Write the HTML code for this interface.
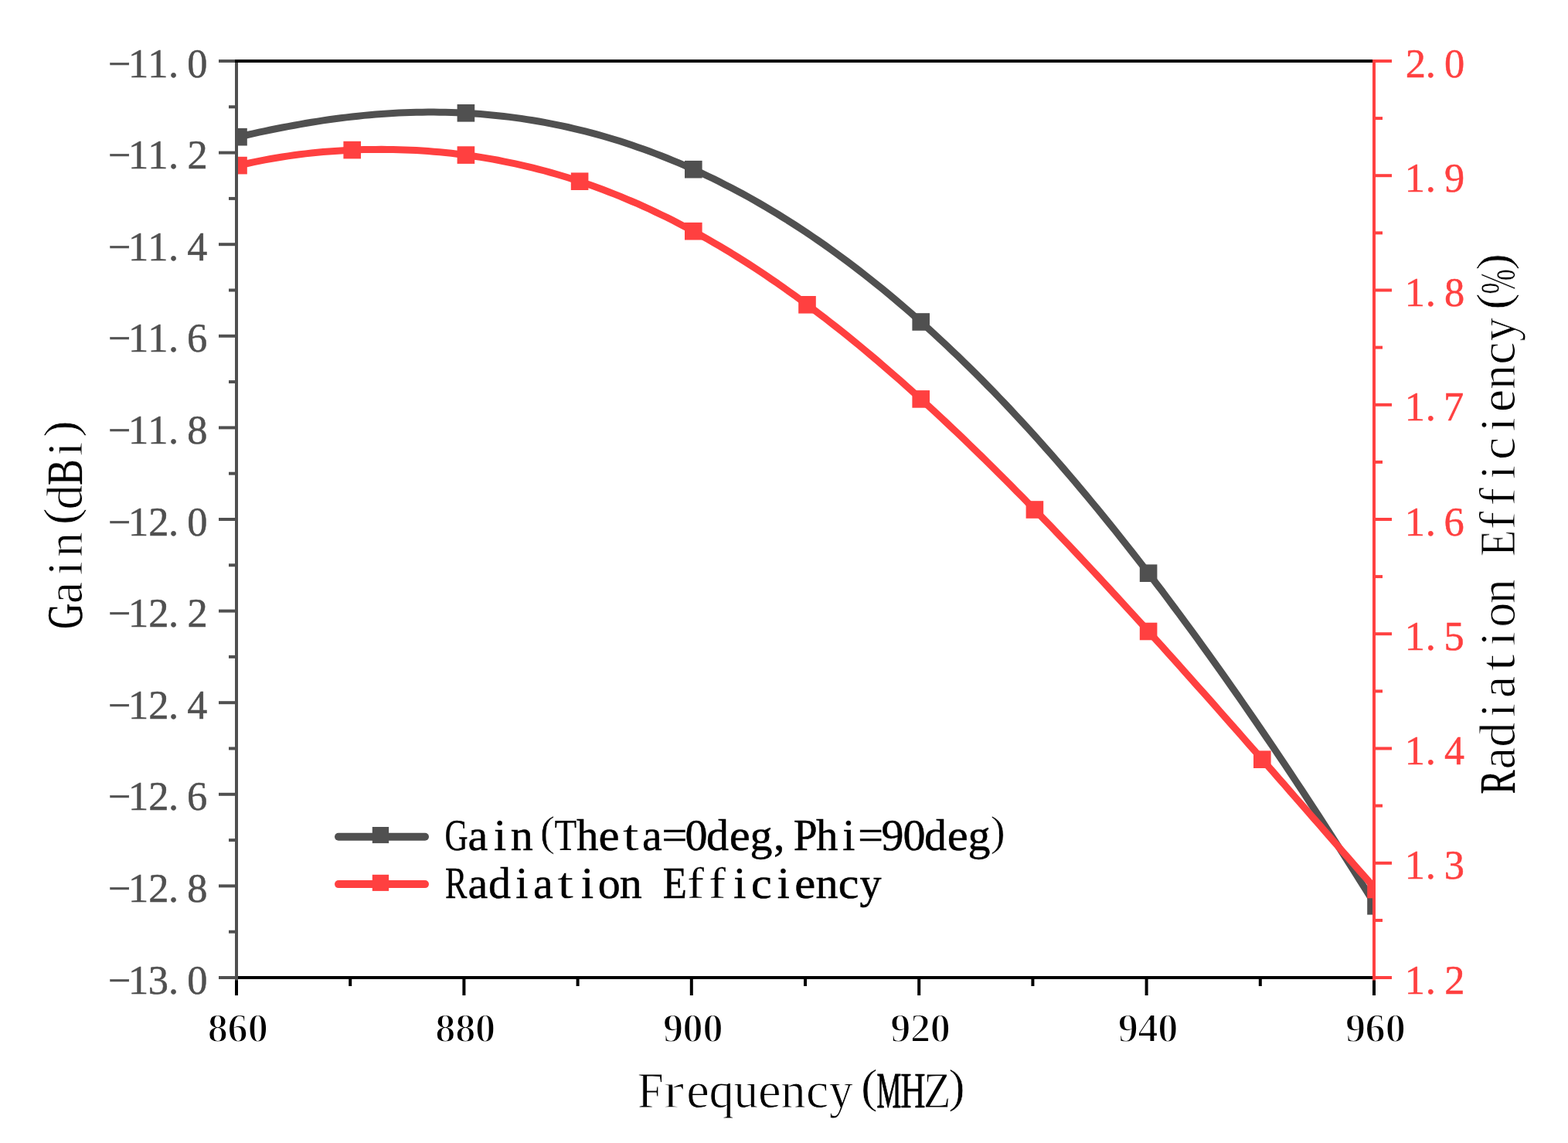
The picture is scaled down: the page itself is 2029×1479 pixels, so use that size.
<!DOCTYPE html><html><head><meta charset="utf-8"><title>Gain and Radiation Efficiency</title><style>html,body{margin:0;padding:0;background:#fff;overflow:hidden}svg{display:block}text{font-variant-ligatures:none;font-kerning:none}</style></head><body><svg width="2029" height="1479" viewBox="0 0 2029 1479">
<rect width="2029" height="1479" fill="#fff"/>
<defs><clipPath id="pc"><rect x="308.0" y="81.0" width="1468.0" height="1182.0"/></clipPath></defs>
<g clip-path="url(#pc)">
<path d="M290.0,181.6 L297.5,179.8 L305.1,178.0 L312.6,176.3 L320.2,174.5 L327.7,172.9 L335.2,171.2 L342.8,169.6 L350.3,168.0 L357.8,166.5 L365.4,165.0 L372.9,163.6 L380.5,162.2 L388.0,160.8 L395.5,159.5 L403.1,158.3 L410.6,157.1 L418.1,155.9 L425.7,154.8 L433.2,153.8 L440.8,152.8 L448.3,151.9 L455.8,151.0 L463.4,150.2 L470.9,149.4 L478.4,148.7 L486.0,148.1 L493.5,147.5 L501.1,147.0 L508.6,146.5 L516.1,146.1 L523.7,145.8 L531.2,145.5 L538.7,145.3 L546.3,145.2 L553.8,145.1 L561.4,145.1 L568.9,145.2 L576.4,145.3 L584.0,145.5 L591.5,145.8 L599.0,146.1 L606.6,146.6 L614.1,147.0 L621.7,147.6 L629.2,148.2 L636.7,148.9 L644.3,149.7 L651.8,150.5 L659.3,151.4 L666.9,152.4 L674.4,153.4 L682.0,154.6 L689.5,155.8 L697.0,157.0 L704.6,158.4 L712.1,159.8 L719.6,161.3 L727.2,162.9 L734.7,164.5 L742.3,166.3 L749.8,168.1 L757.3,169.9 L764.9,171.9 L772.4,173.9 L779.9,176.0 L787.5,178.2 L795.0,180.5 L802.6,182.8 L810.1,185.3 L817.6,187.8 L825.2,190.4 L832.7,193.0 L840.3,195.8 L847.8,198.6 L855.3,201.5 L862.9,204.5 L870.4,207.6 L877.9,210.7 L885.5,213.9 L893.0,217.3 L900.6,220.7 L908.1,224.1 L915.6,227.7 L923.2,231.3 L930.7,235.1 L938.2,238.9 L945.8,242.8 L953.3,246.7 L960.9,250.8 L968.4,254.9 L975.9,259.2 L983.5,263.5 L991.0,267.9 L998.5,272.4 L1006.1,276.9 L1013.6,281.6 L1021.2,286.3 L1028.7,291.1 L1036.2,296.1 L1043.8,301.0 L1051.3,306.1 L1058.8,311.3 L1066.4,316.5 L1073.9,321.9 L1081.5,327.3 L1089.0,332.8 L1096.5,338.4 L1104.1,344.1 L1111.6,349.9 L1119.1,355.7 L1126.7,361.7 L1134.2,367.7 L1141.8,373.8 L1149.3,380.0 L1156.8,386.3 L1164.4,392.7 L1171.9,399.1 L1179.4,405.7 L1187.0,412.3 L1194.5,419.0 L1202.1,425.8 L1209.6,432.7 L1217.1,439.7 L1224.7,446.7 L1232.2,453.9 L1239.7,461.1 L1247.3,468.4 L1254.8,475.8 L1262.4,483.3 L1269.9,490.8 L1277.4,498.5 L1285.0,506.2 L1292.5,514.0 L1300.1,521.9 L1307.6,529.9 L1315.1,538.0 L1322.7,546.1 L1330.2,554.3 L1337.7,562.6 L1345.3,571.0 L1352.8,579.5 L1360.4,588.0 L1367.9,596.6 L1375.4,605.3 L1383.0,614.1 L1390.5,622.9 L1398.0,631.9 L1405.6,640.9 L1413.1,650.0 L1420.7,659.1 L1428.2,668.3 L1435.7,677.6 L1443.3,687.0 L1450.8,696.5 L1458.3,706.0 L1465.9,715.6 L1473.4,725.3 L1481.0,735.0 L1488.5,744.8 L1496.0,754.7 L1503.6,764.6 L1511.1,774.6 L1518.6,784.7 L1526.2,794.9 L1533.7,805.1 L1541.3,815.4 L1548.8,825.7 L1556.3,836.1 L1563.9,846.6 L1571.4,857.1 L1578.9,867.7 L1586.5,878.4 L1594.0,889.1 L1601.6,899.9 L1609.1,910.7 L1616.6,921.6 L1624.2,932.6 L1631.7,943.6 L1639.2,954.6 L1646.8,965.8 L1654.3,977.0 L1661.9,988.2 L1669.4,999.5 L1676.9,1010.9 L1684.5,1022.3 L1692.0,1033.7 L1699.5,1045.3 L1707.1,1056.8 L1714.6,1068.5 L1722.2,1080.1 L1729.7,1091.9 L1737.2,1103.7 L1744.8,1115.5 L1752.3,1127.4 L1759.8,1139.3 L1767.4,1151.3 L1774.9,1163.4 L1782.5,1175.5 L1790.0,1187.7" fill="none" stroke="#505050" stroke-width="9.0" stroke-linejoin="round"/>
<rect x="297.2" y="165.9" width="22.6" height="22.6" fill="#505050"/><rect x="591.6" y="135.0" width="22.6" height="22.6" fill="#505050"/><rect x="886.0" y="207.9" width="22.6" height="22.6" fill="#505050"/><rect x="1180.4" y="405.2" width="22.6" height="22.6" fill="#505050"/><rect x="1474.8" y="730.4" width="22.6" height="22.6" fill="#505050"/><rect x="1769.2" y="1161.0" width="22.6" height="22.6" fill="#505050"/>
<path d="M290.0,218.8 L297.5,216.8 L305.1,214.9 L312.6,213.1 L320.2,211.5 L327.7,209.8 L335.2,208.3 L342.8,206.9 L350.3,205.5 L357.8,204.2 L365.4,203.0 L372.9,201.9 L380.5,200.8 L388.0,199.8 L395.5,198.9 L403.1,198.1 L410.6,197.3 L418.1,196.6 L425.7,196.0 L433.2,195.4 L440.8,194.9 L448.3,194.5 L455.8,194.1 L463.4,193.8 L470.9,193.6 L478.4,193.5 L486.0,193.4 L493.5,193.3 L501.1,193.4 L508.6,193.5 L516.1,193.7 L523.7,193.9 L531.2,194.2 L538.7,194.6 L546.3,195.1 L553.8,195.6 L561.4,196.2 L568.9,196.8 L576.4,197.5 L584.0,198.3 L591.5,199.2 L599.0,200.1 L606.6,201.2 L614.1,202.2 L621.7,203.4 L629.2,204.6 L636.7,205.9 L644.3,207.3 L651.8,208.8 L659.3,210.3 L666.9,211.9 L674.4,213.6 L682.0,215.3 L689.5,217.2 L697.0,219.1 L704.6,221.0 L712.1,223.1 L719.6,225.3 L727.2,227.5 L734.7,229.8 L742.3,232.2 L749.8,234.6 L757.3,237.2 L764.9,239.8 L772.4,242.5 L779.9,245.3 L787.5,248.2 L795.0,251.1 L802.6,254.1 L810.1,257.3 L817.6,260.5 L825.2,263.7 L832.7,267.1 L840.3,270.5 L847.8,274.1 L855.3,277.7 L862.9,281.3 L870.4,285.1 L877.9,289.0 L885.5,292.9 L893.0,296.9 L900.6,301.0 L908.1,305.2 L915.6,309.4 L923.2,313.8 L930.7,318.2 L938.2,322.7 L945.8,327.2 L953.3,331.9 L960.9,336.6 L968.4,341.4 L975.9,346.3 L983.5,351.3 L991.0,356.3 L998.5,361.5 L1006.1,366.6 L1013.6,371.9 L1021.2,377.3 L1028.7,382.7 L1036.2,388.2 L1043.8,393.7 L1051.3,399.4 L1058.8,405.1 L1066.4,410.8 L1073.9,416.7 L1081.5,422.6 L1089.0,428.6 L1096.5,434.6 L1104.1,440.7 L1111.6,446.9 L1119.1,453.1 L1126.7,459.5 L1134.2,465.8 L1141.8,472.3 L1149.3,478.8 L1156.8,485.3 L1164.4,491.9 L1171.9,498.6 L1179.4,505.3 L1187.0,512.1 L1194.5,519.0 L1202.1,525.8 L1209.6,532.8 L1217.1,539.8 L1224.7,546.9 L1232.2,554.0 L1239.7,561.1 L1247.3,568.3 L1254.8,575.6 L1262.4,582.9 L1269.9,590.2 L1277.4,597.6 L1285.0,605.1 L1292.5,612.6 L1300.1,620.1 L1307.6,627.7 L1315.1,635.3 L1322.7,642.9 L1330.2,650.6 L1337.7,658.3 L1345.3,666.1 L1352.8,673.9 L1360.4,681.7 L1367.9,689.6 L1375.4,697.5 L1383.0,705.4 L1390.5,713.4 L1398.0,721.4 L1405.6,729.5 L1413.1,737.5 L1420.7,745.6 L1428.2,753.7 L1435.7,761.9 L1443.3,770.1 L1450.8,778.3 L1458.3,786.5 L1465.9,794.7 L1473.4,803.0 L1481.0,811.3 L1488.5,819.6 L1496.0,827.9 L1503.6,836.3 L1511.1,844.7 L1518.6,853.1 L1526.2,861.5 L1533.7,869.9 L1541.3,878.4 L1548.8,886.9 L1556.3,895.3 L1563.9,903.8 L1571.4,912.3 L1578.9,920.9 L1586.5,929.4 L1594.0,938.0 L1601.6,946.5 L1609.1,955.1 L1616.6,963.7 L1624.2,972.3 L1631.7,980.9 L1639.2,989.5 L1646.8,998.1 L1654.3,1006.7 L1661.9,1015.3 L1669.4,1024.0 L1676.9,1032.6 L1684.5,1041.2 L1692.0,1049.9 L1699.5,1058.5 L1707.1,1067.1 L1714.6,1075.8 L1722.2,1084.4 L1729.7,1093.0 L1737.2,1101.7 L1744.8,1110.3 L1752.3,1118.9 L1759.8,1127.5 L1767.4,1136.1 L1774.9,1144.6 L1782.5,1153.2 L1790.0,1161.8" fill="none" stroke="#ff4040" stroke-width="9.0" stroke-linejoin="round"/>
<rect x="297.2" y="202.8" width="22.6" height="22.6" fill="#ff4040"/><rect x="444.4" y="182.8" width="22.6" height="22.6" fill="#ff4040"/><rect x="591.6" y="189.3" width="22.6" height="22.6" fill="#ff4040"/><rect x="738.8" y="223.4" width="22.6" height="22.6" fill="#ff4040"/><rect x="886.0" y="287.9" width="22.6" height="22.6" fill="#ff4040"/><rect x="1033.2" y="383.0" width="22.6" height="22.6" fill="#ff4040"/><rect x="1180.4" y="505.1" width="22.6" height="22.6" fill="#ff4040"/><rect x="1327.6" y="648.2" width="22.6" height="22.6" fill="#ff4040"/><rect x="1474.8" y="805.7" width="22.6" height="22.6" fill="#ff4040"/><rect x="1622.0" y="971.4" width="22.6" height="22.6" fill="#ff4040"/><rect x="1769.2" y="1139.7" width="22.6" height="22.6" fill="#ff4040"/>
</g>
<g stroke="#000" stroke-width="4.0" fill="none">
<line x1="304.0" y1="1265.0" x2="1780.0" y2="1265.0"/>
<line x1="306.0" y1="1265.0" x2="306.0" y2="1288.0"/>
<line x1="453.2" y1="1265.0" x2="453.2" y2="1276.0"/>
<line x1="600.4" y1="1265.0" x2="600.4" y2="1288.0"/>
<line x1="747.6" y1="1265.0" x2="747.6" y2="1276.0"/>
<line x1="894.8" y1="1265.0" x2="894.8" y2="1288.0"/>
<line x1="1042.0" y1="1265.0" x2="1042.0" y2="1276.0"/>
<line x1="1189.2" y1="1265.0" x2="1189.2" y2="1288.0"/>
<line x1="1336.4" y1="1265.0" x2="1336.4" y2="1276.0"/>
<line x1="1483.6" y1="1265.0" x2="1483.6" y2="1288.0"/>
<line x1="1630.8" y1="1265.0" x2="1630.8" y2="1276.0"/>
<line x1="1778.0" y1="1265.0" x2="1778.0" y2="1288.0"/>
</g>
<g stroke="#505050" stroke-width="4.0" fill="none">
<line x1="306.0" y1="77.0" x2="306.0" y2="1268.6"/>
<line x1="283.0" y1="79.0" x2="306.0" y2="79.0"/>
<line x1="296.0" y1="138.3" x2="306.0" y2="138.3"/>
<line x1="283.0" y1="197.6" x2="306.0" y2="197.6"/>
<line x1="296.0" y1="256.9" x2="306.0" y2="256.9"/>
<line x1="283.0" y1="316.2" x2="306.0" y2="316.2"/>
<line x1="296.0" y1="375.5" x2="306.0" y2="375.5"/>
<line x1="283.0" y1="434.8" x2="306.0" y2="434.8"/>
<line x1="296.0" y1="494.1" x2="306.0" y2="494.1"/>
<line x1="283.0" y1="553.4" x2="306.0" y2="553.4"/>
<line x1="296.0" y1="612.7" x2="306.0" y2="612.7"/>
<line x1="283.0" y1="672.0" x2="306.0" y2="672.0"/>
<line x1="296.0" y1="731.3" x2="306.0" y2="731.3"/>
<line x1="283.0" y1="790.6" x2="306.0" y2="790.6"/>
<line x1="296.0" y1="849.9" x2="306.0" y2="849.9"/>
<line x1="283.0" y1="909.2" x2="306.0" y2="909.2"/>
<line x1="296.0" y1="968.5" x2="306.0" y2="968.5"/>
<line x1="283.0" y1="1027.8" x2="306.0" y2="1027.8"/>
<line x1="296.0" y1="1087.1" x2="306.0" y2="1087.1"/>
<line x1="283.0" y1="1146.4" x2="306.0" y2="1146.4"/>
<line x1="296.0" y1="1205.7" x2="306.0" y2="1205.7"/>
<line x1="283.0" y1="1265.0" x2="306.0" y2="1265.0"/>
</g>
<line x1="304.0" y1="79.0" x2="1778.0" y2="79.0" stroke="#000" stroke-width="4.0"/>
<g stroke="#ff4040" stroke-width="4.0" fill="none">
<line x1="1778.0" y1="77.0" x2="1778.0" y2="1268.6"/>
<line x1="1778.0" y1="79.0" x2="1801.0" y2="79.0"/>
<line x1="1778.0" y1="153.1" x2="1789.0" y2="153.1"/>
<line x1="1778.0" y1="227.2" x2="1801.0" y2="227.2"/>
<line x1="1778.0" y1="301.4" x2="1789.0" y2="301.4"/>
<line x1="1778.0" y1="375.5" x2="1801.0" y2="375.5"/>
<line x1="1778.0" y1="449.6" x2="1789.0" y2="449.6"/>
<line x1="1778.0" y1="523.8" x2="1801.0" y2="523.8"/>
<line x1="1778.0" y1="597.9" x2="1789.0" y2="597.9"/>
<line x1="1778.0" y1="672.0" x2="1801.0" y2="672.0"/>
<line x1="1778.0" y1="746.1" x2="1789.0" y2="746.1"/>
<line x1="1778.0" y1="820.2" x2="1801.0" y2="820.2"/>
<line x1="1778.0" y1="894.4" x2="1789.0" y2="894.4"/>
<line x1="1778.0" y1="968.5" x2="1801.0" y2="968.5"/>
<line x1="1778.0" y1="1042.6" x2="1789.0" y2="1042.6"/>
<line x1="1778.0" y1="1116.8" x2="1801.0" y2="1116.8"/>
<line x1="1778.0" y1="1190.9" x2="1789.0" y2="1190.9"/>
<line x1="1778.0" y1="1265.0" x2="1801.0" y2="1265.0"/>
</g>
<g font-family="Liberation Serif, serif" font-size="52.4" font-weight="normal" fill="#505050" stroke="#505050" stroke-width="0.5" ><text transform="translate(154.60,99.50) scale(0.992,1.000)" x="-14.80" y="0">−</text><text x="165.97" y="99.50">1</text><text x="191.17" y="99.50">1</text><text x="218.11" y="99.50">.</text><text x="242.30" y="99.50">0</text></g>
<g font-family="Liberation Serif, serif" font-size="52.4" font-weight="normal" fill="#505050" stroke="#505050" stroke-width="0.5" ><text transform="translate(154.60,218.10) scale(0.992,1.000)" x="-14.80" y="0">−</text><text x="165.97" y="218.10">1</text><text x="191.17" y="218.10">1</text><text x="218.11" y="218.10">.</text><text x="242.59" y="218.10">2</text></g>
<g font-family="Liberation Serif, serif" font-size="52.4" font-weight="normal" fill="#505050" stroke="#505050" stroke-width="0.5" ><text transform="translate(154.60,336.70) scale(0.992,1.000)" x="-14.80" y="0">−</text><text x="165.97" y="336.70">1</text><text x="191.17" y="336.70">1</text><text x="218.11" y="336.70">.</text><text transform="translate(255.40,336.70) scale(0.993,1.000)" x="-13.20" y="0">4</text></g>
<g font-family="Liberation Serif, serif" font-size="52.4" font-weight="normal" fill="#505050" stroke="#505050" stroke-width="0.5" ><text transform="translate(154.60,455.30) scale(0.992,1.000)" x="-14.80" y="0">−</text><text x="165.97" y="455.30">1</text><text x="191.17" y="455.30">1</text><text x="218.11" y="455.30">.</text><text x="241.95" y="455.30">6</text></g>
<g font-family="Liberation Serif, serif" font-size="52.4" font-weight="normal" fill="#505050" stroke="#505050" stroke-width="0.5" ><text transform="translate(154.60,573.90) scale(0.992,1.000)" x="-14.80" y="0">−</text><text x="165.97" y="573.90">1</text><text x="191.17" y="573.90">1</text><text x="218.11" y="573.90">.</text><text x="242.30" y="573.90">8</text></g>
<g font-family="Liberation Serif, serif" font-size="52.4" font-weight="normal" fill="#505050" stroke="#505050" stroke-width="0.5" ><text transform="translate(154.60,692.50) scale(0.992,1.000)" x="-14.80" y="0">−</text><text x="165.97" y="692.50">1</text><text x="192.19" y="692.50">2</text><text x="218.11" y="692.50">.</text><text x="242.30" y="692.50">0</text></g>
<g font-family="Liberation Serif, serif" font-size="52.4" font-weight="normal" fill="#505050" stroke="#505050" stroke-width="0.5" ><text transform="translate(154.60,811.10) scale(0.992,1.000)" x="-14.80" y="0">−</text><text x="165.97" y="811.10">1</text><text x="192.19" y="811.10">2</text><text x="218.11" y="811.10">.</text><text x="242.59" y="811.10">2</text></g>
<g font-family="Liberation Serif, serif" font-size="52.4" font-weight="normal" fill="#505050" stroke="#505050" stroke-width="0.5" ><text transform="translate(154.60,929.70) scale(0.992,1.000)" x="-14.80" y="0">−</text><text x="165.97" y="929.70">1</text><text x="192.19" y="929.70">2</text><text x="218.11" y="929.70">.</text><text transform="translate(255.40,929.70) scale(0.993,1.000)" x="-13.20" y="0">4</text></g>
<g font-family="Liberation Serif, serif" font-size="52.4" font-weight="normal" fill="#505050" stroke="#505050" stroke-width="0.5" ><text transform="translate(154.60,1048.30) scale(0.992,1.000)" x="-14.80" y="0">−</text><text x="165.97" y="1048.30">1</text><text x="192.19" y="1048.30">2</text><text x="218.11" y="1048.30">.</text><text x="241.95" y="1048.30">6</text></g>
<g font-family="Liberation Serif, serif" font-size="52.4" font-weight="normal" fill="#505050" stroke="#505050" stroke-width="0.5" ><text transform="translate(154.60,1166.90) scale(0.992,1.000)" x="-14.80" y="0">−</text><text x="165.97" y="1166.90">1</text><text x="192.19" y="1166.90">2</text><text x="218.11" y="1166.90">.</text><text x="242.30" y="1166.90">8</text></g>
<g font-family="Liberation Serif, serif" font-size="52.4" font-weight="normal" fill="#505050" stroke="#505050" stroke-width="0.5" ><text transform="translate(154.60,1285.50) scale(0.992,1.000)" x="-14.80" y="0">−</text><text x="165.97" y="1285.50">1</text><text x="191.67" y="1285.50">3</text><text x="218.11" y="1285.50">.</text><text x="242.30" y="1285.50">0</text></g>
<g font-family="Liberation Serif, serif" font-size="52.4" font-weight="normal" fill="#ff4040" stroke="#ff4040" stroke-width="0.5" ><text x="1818.87" y="99.50">2</text><text x="1844.74" y="99.50">.</text><text x="1868.88" y="99.50">0</text></g>
<g font-family="Liberation Serif, serif" font-size="52.4" font-weight="normal" fill="#ff4040" stroke="#ff4040" stroke-width="0.5" ><text x="1817.85" y="247.75">1</text><text x="1844.74" y="247.75">.</text><text x="1869.11" y="247.75">9</text></g>
<g font-family="Liberation Serif, serif" font-size="52.4" font-weight="normal" fill="#ff4040" stroke="#ff4040" stroke-width="0.5" ><text x="1817.85" y="396.00">1</text><text x="1844.74" y="396.00">.</text><text x="1868.88" y="396.00">8</text></g>
<g font-family="Liberation Serif, serif" font-size="52.4" font-weight="normal" fill="#ff4040" stroke="#ff4040" stroke-width="0.5" ><text x="1817.85" y="544.25">1</text><text x="1844.74" y="544.25">.</text><text x="1867.90" y="544.25">7</text></g>
<g font-family="Liberation Serif, serif" font-size="52.4" font-weight="normal" fill="#ff4040" stroke="#ff4040" stroke-width="0.5" ><text x="1817.85" y="692.50">1</text><text x="1844.74" y="692.50">.</text><text x="1868.53" y="692.50">6</text></g>
<g font-family="Liberation Serif, serif" font-size="52.4" font-weight="normal" fill="#ff4040" stroke="#ff4040" stroke-width="0.5" ><text x="1817.85" y="840.75">1</text><text x="1844.74" y="840.75">.</text><text x="1868.38" y="840.75">5</text></g>
<g font-family="Liberation Serif, serif" font-size="52.4" font-weight="normal" fill="#ff4040" stroke="#ff4040" stroke-width="0.5" ><text x="1817.85" y="989.00">1</text><text x="1844.74" y="989.00">.</text><text transform="translate(1881.97,989.00) scale(0.991,1.000)" x="-13.20" y="0">4</text></g>
<g font-family="Liberation Serif, serif" font-size="52.4" font-weight="normal" fill="#ff4040" stroke="#ff4040" stroke-width="0.5" ><text x="1817.85" y="1137.25">1</text><text x="1844.74" y="1137.25">.</text><text x="1868.64" y="1137.25">3</text></g>
<g font-family="Liberation Serif, serif" font-size="52.4" font-weight="normal" fill="#ff4040" stroke="#ff4040" stroke-width="0.5" ><text x="1817.85" y="1285.50">1</text><text x="1844.74" y="1285.50">.</text><text x="1869.17" y="1285.50">2</text></g>
<g font-family="Liberation Serif, serif" font-size="53.2" font-weight="bold" fill="#000" stroke="#fff" stroke-width="2.0" ><text x="268.60" y="1347.80">8</text><text x="294.37" y="1347.80">6</text><text x="320.40" y="1347.80">0</text></g>
<g font-family="Liberation Serif, serif" font-size="53.2" font-weight="bold" fill="#000" stroke="#fff" stroke-width="2.0" ><text x="563.00" y="1347.80">8</text><text x="588.90" y="1347.80">8</text><text x="614.80" y="1347.80">0</text></g>
<g font-family="Liberation Serif, serif" font-size="53.2" font-weight="bold" fill="#000" stroke="#fff" stroke-width="2.0" ><text x="857.63" y="1347.80">9</text><text x="883.30" y="1347.80">0</text><text x="909.20" y="1347.80">0</text></g>
<g font-family="Liberation Serif, serif" font-size="53.2" font-weight="bold" fill="#000" stroke="#fff" stroke-width="2.0" ><text x="1152.03" y="1347.80">9</text><text x="1177.73" y="1347.80">2</text><text x="1203.60" y="1347.80">0</text></g>
<g font-family="Liberation Serif, serif" font-size="53.2" font-weight="bold" fill="#000" stroke="#fff" stroke-width="2.0" ><text x="1446.43" y="1347.80">9</text><text x="1472.23" y="1347.80">4</text><text x="1498.00" y="1347.80">0</text></g>
<g font-family="Liberation Serif, serif" font-size="53.2" font-weight="bold" fill="#000" stroke="#fff" stroke-width="2.0" ><text x="1740.83" y="1347.80">9</text><text x="1766.37" y="1347.80">6</text><text x="1792.40" y="1347.80">0</text></g>
<g font-family="Liberation Serif, serif" font-size="64.5" font-weight="normal" fill="#000" stroke="#fff" stroke-width="0.9" ><text transform="translate(841.45,1432.50) scale(0.936,1.000)" x="-17.70" y="0">F</text><text transform="translate(872.35,1432.50) scale(1.260,1.000)" x="-11.10" y="0" stroke="#fff" stroke-width="1.29">r</text><text transform="translate(903.25,1432.50) scale(1.035,1.000)" x="-14.46" y="0">e</text><text x="917.44" y="1432.50">q</text><text transform="translate(965.05,1432.50) scale(0.979,1.000)" x="-16.00" y="0">u</text><text transform="translate(995.95,1432.50) scale(1.035,1.000)" x="-14.46" y="0">e</text><text transform="translate(1026.85,1432.50) scale(0.996,1.000)" x="-16.38" y="0">n</text><text transform="translate(1057.75,1432.50) scale(1.022,1.000)" x="-14.55" y="0">c</text><text transform="translate(1088.65,1432.50) scale(0.950,1.000)" x="-16.39" y="0">y</text><text transform="translate(1125.11,1426.05) scale(1.000,0.940)" x="-11.12" y="0" stroke="#fff" stroke-width="0.70">(</text><text transform="translate(1150.45,1432.50) scale(0.553,1.000)" x="-28.66" y="0" stroke="#000" stroke-width="0.95">M</text><text transform="translate(1181.35,1432.50) scale(0.693,1.000)" x="-23.27" y="0" stroke="#000" stroke-width="0.50">H</text><text transform="translate(1212.25,1432.50) scale(0.905,1.000)" x="-19.48" y="0">Z</text><text transform="translate(1237.59,1426.05) scale(1.000,0.940)" x="-10.36" y="0" stroke="#fff" stroke-width="0.70">)</text></g>
<g transform="translate(105.8,812.5) rotate(-90)"><g font-family="Liberation Serif, serif" font-size="64.5" font-weight="normal" fill="#000" stroke="#fff" stroke-width="0.9" ><text transform="translate(15.45,0.00) scale(0.708,1.000)" x="-23.60" y="0" stroke="#000" stroke-width="0.46">G</text><text x="31.34" y="0.00">a</text><text x="68.23" y="0.00">i</text><text transform="translate(108.15,0.00) scale(0.996,1.000)" x="-16.38" y="0">n</text><text transform="translate(144.61,-6.45) scale(1.000,0.940)" x="-11.12" y="0" stroke="#fff" stroke-width="0.70">(</text><text x="153.05" y="0.00">d</text><text transform="translate(200.85,0.00) scale(0.780,1.000)" x="-20.86" y="0" stroke="#000" stroke-width="0.22">B</text><text x="222.73" y="0.00">i</text><text transform="translate(257.09,-6.45) scale(1.000,0.940)" x="-10.36" y="0" stroke="#fff" stroke-width="0.70">)</text></g></g>
<g transform="translate(1959.5,1026.8) rotate(-90)"><g font-family="Liberation Serif, serif" font-size="64.5" font-weight="normal" fill="#000" stroke="#fff" stroke-width="0.9" ><text transform="translate(15.40,0.00) scale(0.720,1.000)" x="-22.39" y="0" stroke="#000" stroke-width="0.42">R</text><text x="31.21" y="0.00">a</text><text x="60.13" y="0.00">d</text><text x="98.81" y="0.00">i</text><text x="123.64" y="0.00">a</text><text transform="translate(169.45,0.00) scale(1.275,1.000)" x="-9.09" y="0" stroke="#fff" stroke-width="1.31">t</text><text x="191.24" y="0.00">i</text><text x="214.95" y="0.00">o</text><text transform="translate(261.88,0.00) scale(0.993,1.000)" x="-16.38" y="0">n</text><text transform="translate(323.50,0.00) scale(0.862,1.000)" x="-19.02" y="0">E</text><text transform="translate(354.31,0.00) scale(1.106,1.000)" x="-11.73" y="0" stroke="#fff" stroke-width="1.06">f</text><text transform="translate(385.12,0.00) scale(1.106,1.000)" x="-11.73" y="0" stroke="#fff" stroke-width="1.06">f</text><text x="406.91" y="0.00">i</text><text transform="translate(446.75,0.00) scale(1.019,1.000)" x="-14.55" y="0">c</text><text x="468.53" y="0.00">i</text><text transform="translate(508.36,0.00) scale(1.032,1.000)" x="-14.46" y="0">e</text><text transform="translate(539.17,0.00) scale(0.993,1.000)" x="-16.38" y="0">n</text><text transform="translate(569.99,0.00) scale(1.019,1.000)" x="-14.55" y="0">c</text><text transform="translate(600.79,0.00) scale(0.948,1.000)" x="-16.39" y="0">y</text><text transform="translate(637.15,-6.45) scale(1.000,0.940)" x="-11.12" y="0" stroke="#fff" stroke-width="0.70">(</text><text transform="translate(662.41,0.00) scale(0.600,1.000)" x="-26.86" y="0" stroke="#fff" stroke-width="0.60">%</text><text transform="translate(687.68,-6.45) scale(1.000,0.940)" x="-10.36" y="0" stroke="#fff" stroke-width="0.70">)</text></g></g>
<line x1="438" y1="1082.7" x2="550" y2="1082.7" stroke="#505050" stroke-width="10" stroke-linecap="round"/>
<rect x="481.8" y="1070" width="21.3" height="21.1" fill="#505050"/>
<line x1="438" y1="1144.1" x2="550" y2="1144.1" stroke="#ff4040" stroke-width="10" stroke-linecap="round"/>
<rect x="481.8" y="1131.8" width="21.3" height="21.1" fill="#ff4040"/>
<g font-family="Liberation Serif, serif" font-size="58" font-weight="normal" fill="#000" stroke="#000" stroke-width="0.5" ><text transform="translate(590.80,1100.00) scale(0.718,1.000)" x="-21.23" y="0" stroke="#000" stroke-width="0.38">G</text><text x="605.51" y="1100.00">a</text><text x="639.09" y="1100.00">i</text><text x="660.67" y="1100.00">n</text><text transform="translate(708.68,1094.20) scale(1.000,0.940)" x="-10.00" y="0" stroke="#fff" stroke-width="0.63">(</text><text transform="translate(731.80,1100.00) scale(0.810,1.000)" x="-17.76" y="0" stroke="#000" stroke-width="0.11">T</text><text transform="translate(760.00,1100.00) scale(0.978,1.000)" x="-14.40" y="0">h</text><text transform="translate(788.20,1100.00) scale(1.051,1.000)" x="-13.00" y="0">e</text><text transform="translate(816.40,1100.00) scale(1.298,1.000)" x="-8.17" y="0" stroke="#fff" stroke-width="0.27">t</text><text x="831.11" y="1100.00">a</text><text x="856.42" y="1100.00">=</text><text x="886.50" y="1100.00">0</text><text x="914.01" y="1100.00">d</text><text transform="translate(957.40,1100.00) scale(1.051,1.000)" x="-13.00" y="0">e</text><text x="970.41" y="1100.00">g</text><text x="1001.07" y="1100.00">,</text><text transform="translate(1042.00,1100.00) scale(0.958,1.000)" x="-15.80" y="0">P</text><text transform="translate(1070.20,1100.00) scale(0.978,1.000)" x="-14.40" y="0">h</text><text x="1090.29" y="1100.00">i</text><text x="1110.22" y="1100.00">=</text><text x="1140.55" y="1100.00">9</text><text x="1168.50" y="1100.00">0</text><text x="1196.01" y="1100.00">d</text><text transform="translate(1239.40,1100.00) scale(1.051,1.000)" x="-13.00" y="0">e</text><text x="1252.41" y="1100.00">g</text><text transform="translate(1290.72,1094.20) scale(1.000,0.940)" x="-9.32" y="0" stroke="#fff" stroke-width="0.63">)</text></g>
<g font-family="Liberation Serif, serif" font-size="58" font-weight="normal" fill="#000" stroke="#000" stroke-width="0.5" ><text transform="translate(590.80,1161.80) scale(0.733,1.000)" x="-20.14" y="0" stroke="#000" stroke-width="0.34">R</text><text x="605.51" y="1161.80">a</text><text x="632.01" y="1161.80">d</text><text x="667.29" y="1161.80">i</text><text x="690.11" y="1161.80">a</text><text transform="translate(731.80,1161.80) scale(1.298,1.000)" x="-8.17" y="0" stroke="#fff" stroke-width="0.27">t</text><text x="751.89" y="1161.80">i</text><text x="773.70" y="1161.80">o</text><text x="801.67" y="1161.80">n</text><text transform="translate(872.80,1161.80) scale(0.877,1.000)" x="-17.11" y="0">E</text><text transform="translate(901.00,1161.80) scale(1.126,1.000)" x="-10.55" y="0" stroke="#fff" stroke-width="0.27">f</text><text transform="translate(929.20,1161.80) scale(1.126,1.000)" x="-10.55" y="0" stroke="#fff" stroke-width="0.27">f</text><text x="949.29" y="1161.80">i</text><text transform="translate(985.60,1161.80) scale(1.037,1.000)" x="-13.08" y="0">c</text><text x="1005.69" y="1161.80">i</text><text transform="translate(1042.00,1161.80) scale(1.051,1.000)" x="-13.00" y="0">e</text><text x="1055.47" y="1161.80">n</text><text transform="translate(1098.40,1161.80) scale(1.037,1.000)" x="-13.08" y="0">c</text><text transform="translate(1126.60,1161.80) scale(0.965,1.000)" x="-14.74" y="0">y</text></g>
</svg></body></html>
